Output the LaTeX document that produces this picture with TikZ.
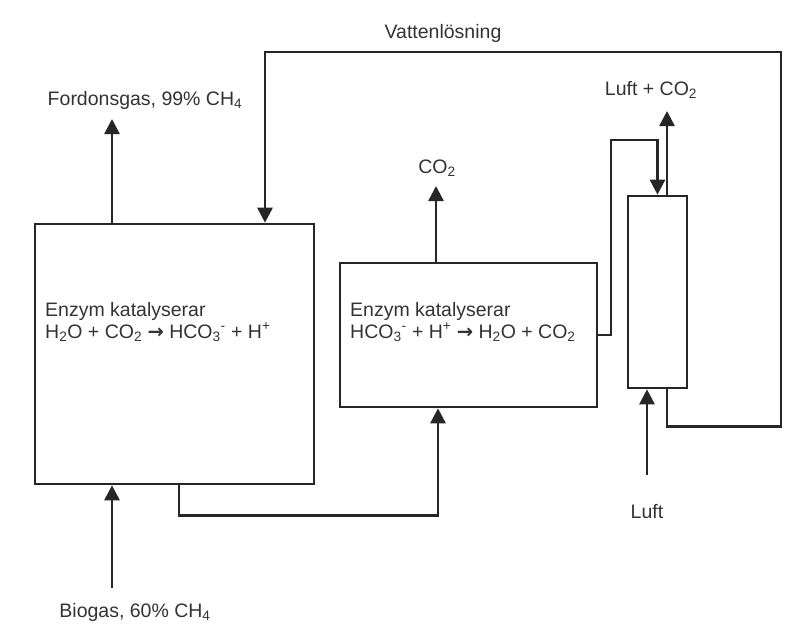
\documentclass[tikz,border=0pt]{standalone}
\usepackage{fontspec}
\setmainfont{Liberation Sans}
\newfontfamily\arrowfont{DejaVu Sans}
\usetikzlibrary{arrows.meta}
\newcommand{\rarr}{{\arrowfont\bfseries →}}
\begin{document}
\begin{tikzpicture}[x=1pt,y=-1pt,
  box/.style={draw=black!85, line width=2.6pt, inner sep=0pt, fill=white},
  conn/.style={draw=black!85, line width=2.6pt},
  arr/.style={conn, -{Triangle[width=15pt,length=15pt]}},
  lbl/.style={inner sep=1pt, font=\fontsize{19.5}{21.5}\selectfont, text=black!80}]
\useasboundingbox (0,0) rectangle (788,632);
% boxes
\node[box, minimum width=279pt, minimum height=260pt] (big) at (174.5,354) {};
\node[box, minimum width=257pt, minimum height=144pt] (mid) at (468.5,335) {};
\node[box, minimum width=59pt, minimum height=192pt] (col) at (657.5,292) {};
% box texts
\node[lbl, anchor=west, align=left] (bigtxt) at (44,322)
  {Enzym katalyserar\\H\textsubscript{2}O + CO\textsubscript{2} \rarr{} HCO\textsubscript{3}\textsuperscript{-} + H\textsuperscript{+}};
\node[lbl, anchor=west, align=left] (midtxt) at (349,322)
  {Enzym katalyserar\\HCO\textsubscript{3}\textsuperscript{-} + H\textsuperscript{+} \rarr{} H\textsubscript{2}O + CO\textsubscript{2}};
% labels
\node[lbl] (ford) at (145,100) {Fordonsgas, 99\% CH\textsubscript{4}};
\node[lbl] (bio) at (135,612) {Biogas, 60\% CH\textsubscript{4}};
\node[lbl] (co2) at (437,168) {CO\textsubscript{2}};
\node[lbl] (vatten) at (443,33) {Vattenlösning};
\node[lbl] (luftco2) at (651,90) {Luft + CO\textsubscript{2}};
\node[lbl] (luft) at (647,512) {Luft};
% free-end coordinates
\coordinate (fordtip) at (112,119);
\coordinate (biostart) at (112,588);
\coordinate (co2tip) at (436,186);
\coordinate (luftco2tip) at (667,111);
\coordinate (luftstart) at (647,475);
% connectors
\draw[arr] (big.north -| fordtip) -- (fordtip);
\draw[arr] (biostart) -- (biostart |- big.south);
\draw[arr] (mid.north -| co2tip) -- (co2tip);
\draw[arr] ([xshift=4.5pt]big.south) -- ++(0,30) -| ([xshift=-30.5pt]mid.south);
\draw[arr] (mid.east) -| (611,140) -| (col.north);
\draw[arr] ([xshift=9.5pt]col.north) -- (luftco2tip);
\draw[arr] (luftstart) -- (luftstart |- col.south);
\draw[arr] ([xshift=9.5pt]col.south) -- ++(0,37) -| (781,52) -| ([xshift=90.5pt]big.north);
\end{tikzpicture}
\end{document}
